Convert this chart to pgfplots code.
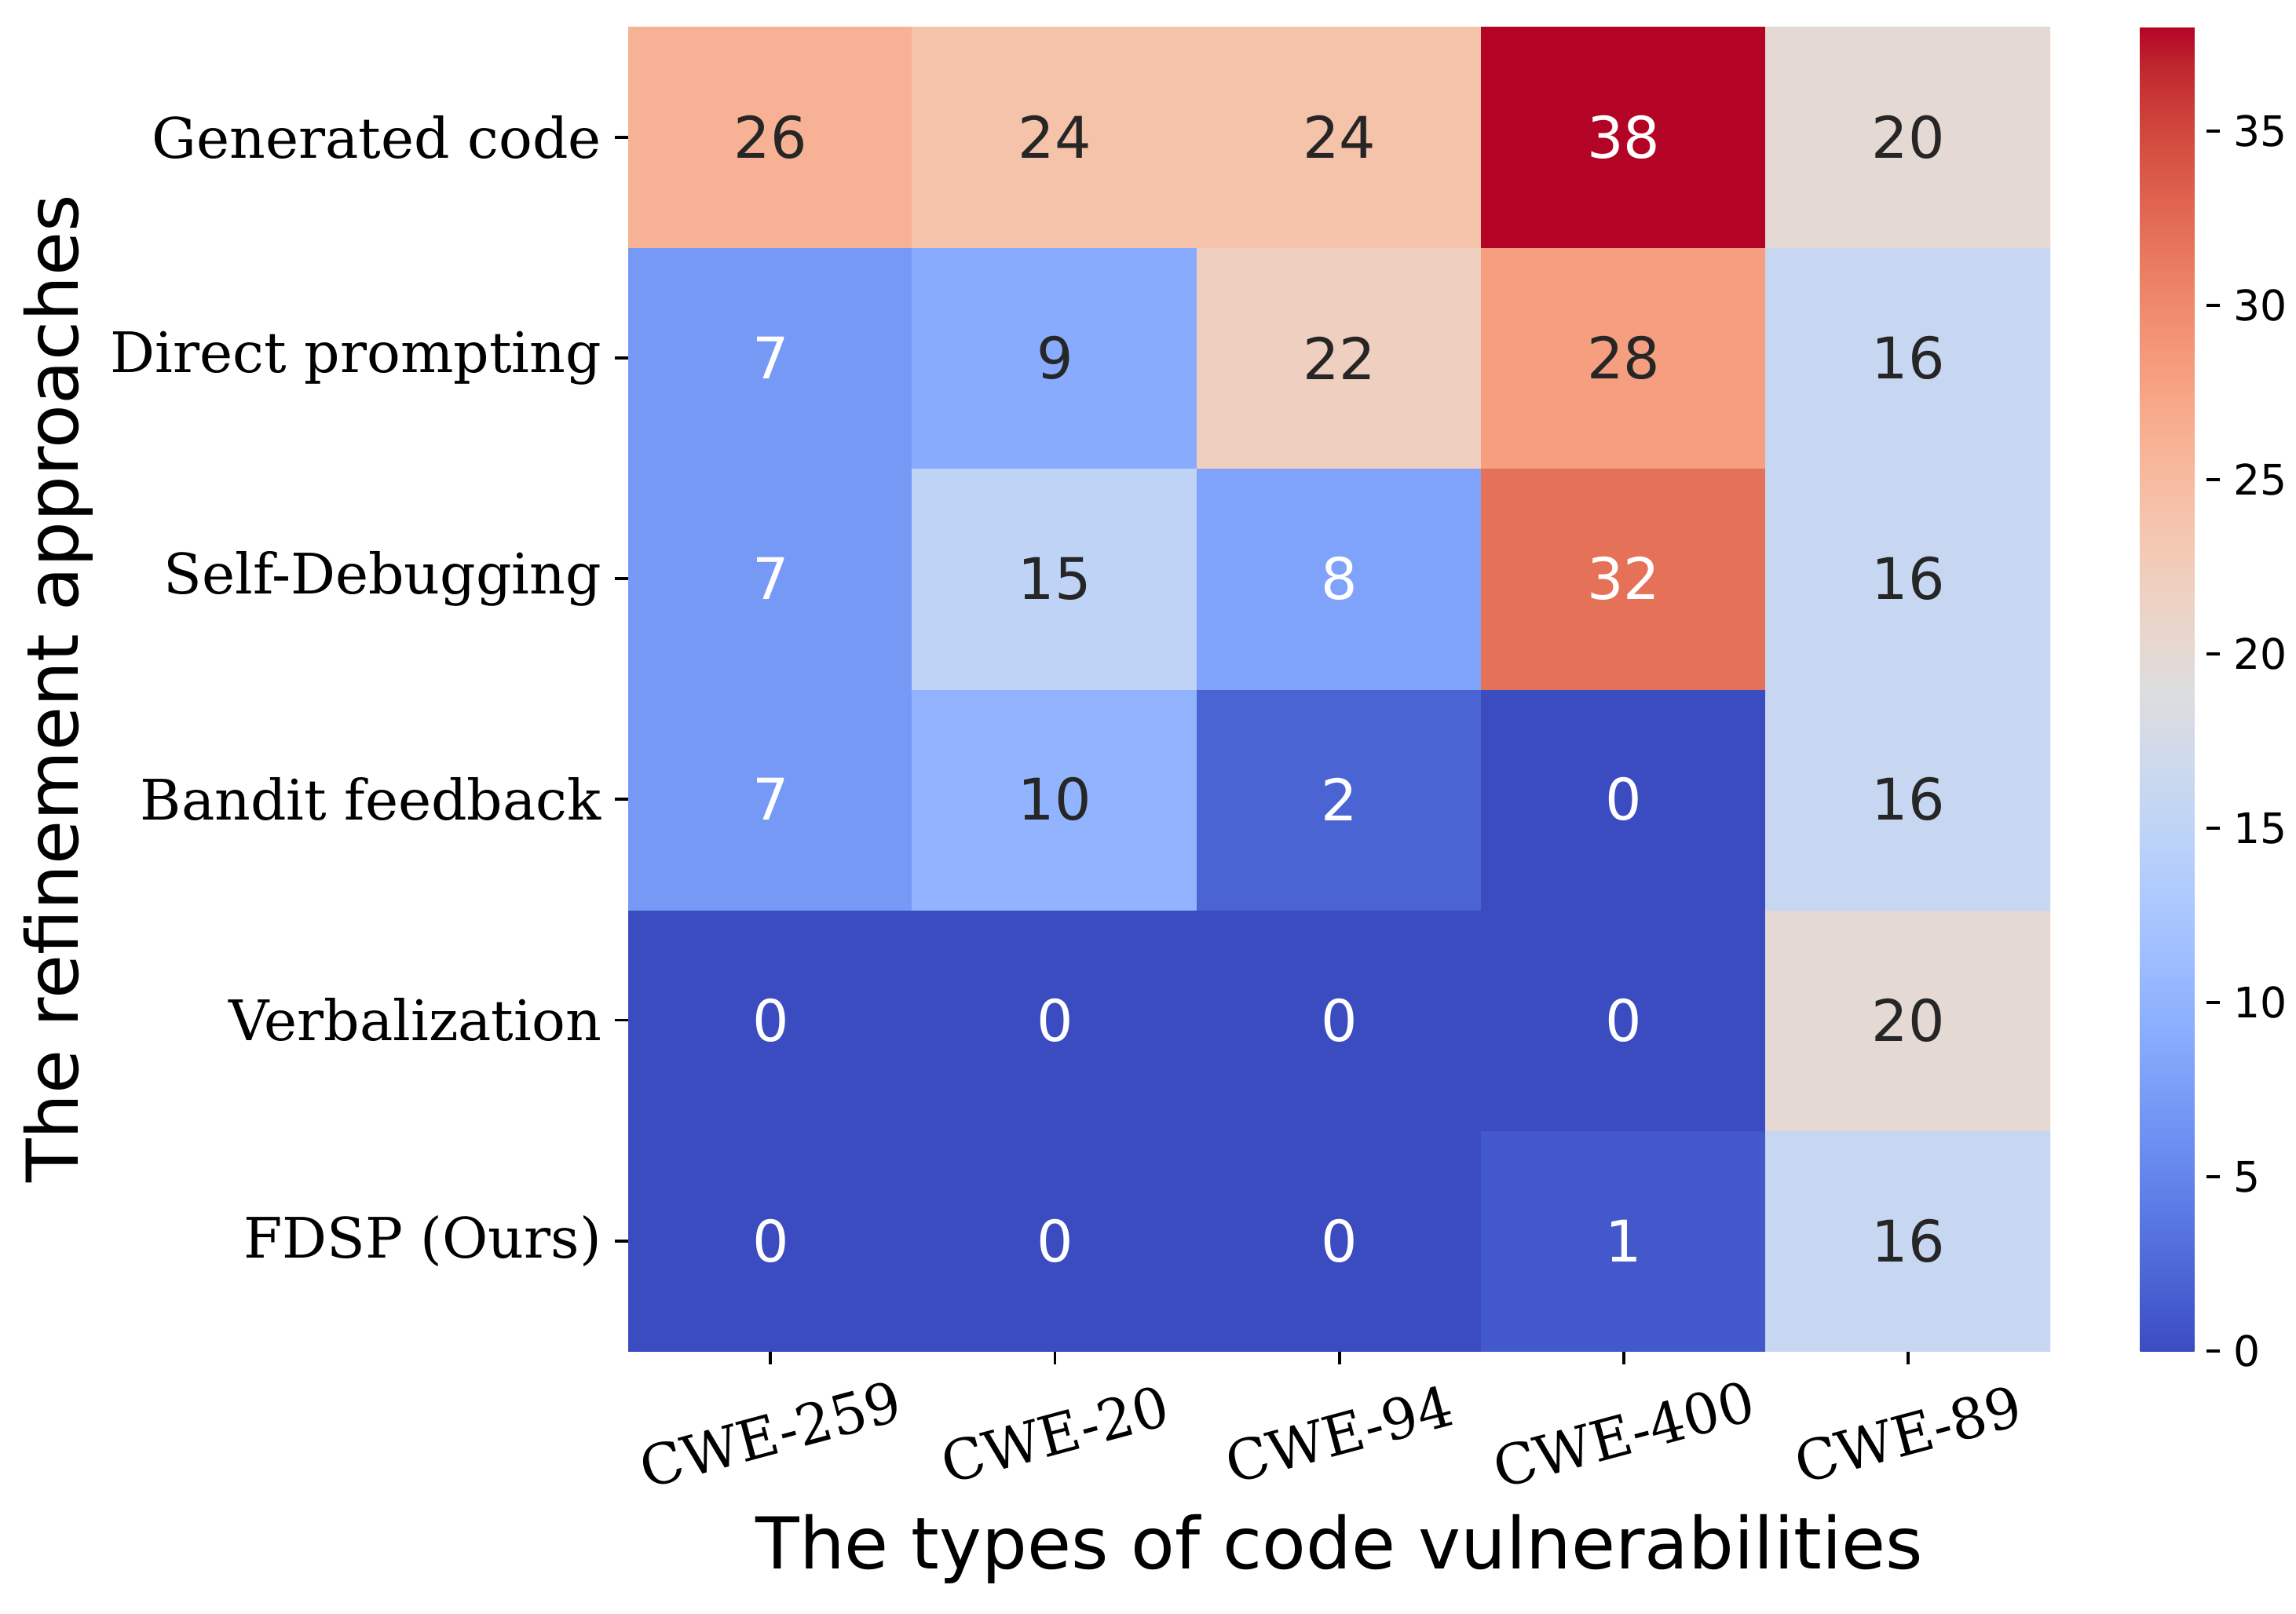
\documentclass[border=0pt]{standalone}
\usepackage{pgfplots}
\usepackage{pgfplotstable}
\usepackage{fontspec}
\pgfplotsset{compat=1.18}
\setmainfont{DejaVu Sans}
\newfontfamily\serif{DejaVu Serif}
\definecolor{dk}{RGB}{38,38,38}

% rows: y=5 is "Generated code" (top), y=0 is "FDSP (Ours)"; w=1 -> white annotation
\pgfplotstableread{
x y v w
0 0 0 1
1 0 0 1
2 0 0 1
3 0 1 1
4 0 16 0
0 1 0 1
1 1 0 1
2 1 0 1
3 1 0 1
4 1 20 0
0 2 7 1
1 2 10 0
2 2 2 1
3 2 0 1
4 2 16 0
0 3 7 1
1 3 15 0
2 3 8 1
3 3 32 1
4 3 16 0
0 4 7 1
1 4 9 0
2 4 22 0
3 4 28 0
4 4 16 0
0 5 26 0
1 5 24 0
2 5 24 0
3 5 38 1
4 5 20 0
}\cells

\begin{document}
\begin{tikzpicture}
\path[use as bounding box] (-164.2pt,-68.5pt) rectangle (435.8pt,353.2pt);
\begin{axis}[
    scale only axis,
    width=371.6pt, height=346.2pt,
    xmin=-0.5, xmax=4.5, ymin=-0.5, ymax=5.5,
    axis line style={draw=none},
    tick align=outside,
    xtick pos=lower, ytick pos=left,
    major tick length=3.5pt,
    tick style={black, line width=0.8pt},
    xtick={0,...,4},
    xticklabels={CWE-259, CWE-20, CWE-94, CWE-400, CWE-89},
    ytick={0,...,5},
    yticklabels={FDSP (Ours), Verbalization, Bandit feedback, Self-Debugging, Direct prompting, Generated code},
    xticklabel style={font=\serif\fontsize{14.6}{17}\selectfont, yshift=-18.2pt, rotate=15, anchor=center},
    yticklabel style={font=\serif\fontsize{14.6}{17}\selectfont, anchor=east},
    xlabel={The types of code vulnerabilities},
    ylabel={The refinement approaches},
    label style={font=\fontsize{18.7}{22}\selectfont},
    xlabel style={at={(axis description cs:0.5,-0.1646)}, anchor=base},
    ylabel style={at={(axis description cs:-0.3867,0.5)}, anchor=base},
    colormap={coolwarm}{
      rgb255=(59,76,192) rgb255=(68,90,204) rgb255=(77,104,215) rgb255=(87,117,225)
      rgb255=(98,130,234) rgb255=(108,142,241) rgb255=(119,154,247) rgb255=(130,165,251)
      rgb255=(141,176,254) rgb255=(152,185,255) rgb255=(163,194,255) rgb255=(174,201,253)
      rgb255=(184,208,249) rgb255=(194,213,244) rgb255=(204,217,238) rgb255=(213,219,230)
      rgb255=(221,221,221) rgb255=(229,216,209) rgb255=(236,211,197) rgb255=(241,204,185)
      rgb255=(245,196,173) rgb255=(247,187,160) rgb255=(247,177,148) rgb255=(247,166,135)
      rgb255=(244,154,123) rgb255=(241,141,111) rgb255=(236,127,99) rgb255=(229,112,88)
      rgb255=(222,96,77) rgb255=(213,80,66) rgb255=(203,62,56) rgb255=(192,40,47)
      rgb255=(180,4,38)},
    point meta min=0, point meta max=38,
    colorbar right,
    colorbar style={
      at={(parent axis.north east)}, anchor=north west, xshift=14.9pt,
      width=17.4pt,
      axis line style={draw=none},
      ytick={0,5,...,35},
      tick align=outside,
      ytick pos=right,
      yticklabel pos=right,
      major tick length=3.5pt,
      tick style={black, line width=0.8pt},
      yticklabel style={font=\fontsize{11}{13}\selectfont, anchor=west,
        /pgf/number format/assume math mode=true},
    },
]
\addplot[matrix plot*, mesh/cols=5, mesh/rows=6, point meta=explicit]
  table[x=x, y=y, meta=v] {\cells};
\addplot[only marks, mark=none, point meta=explicit,
  visualization depends on={\thisrow{w} \as \wc},
  nodes near coords={\ifdim\wc pt>0.5pt\color{white}\else\color{dk}\fi\pgfmathprintnumber[assume math mode=true]{\pgfplotspointmeta}},
  nodes near coords align={center},
  every node near coord/.append style={font=\fontsize{15}{18}\selectfont, anchor=center}]
  table[x=x, y=y, meta=v] {\cells};
\end{axis}
\end{tikzpicture}
\end{document}
